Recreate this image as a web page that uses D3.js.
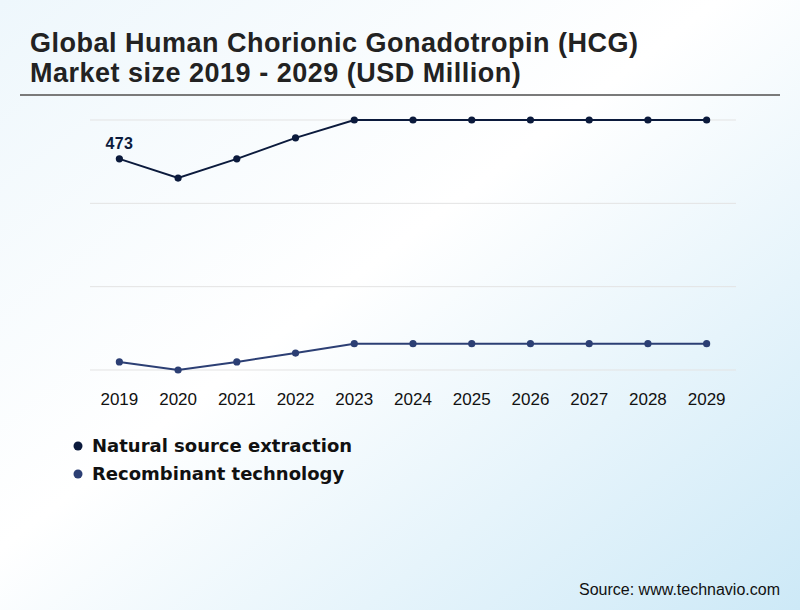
<!DOCTYPE html>
<html>
<head>
<meta charset="utf-8">
<script src="https://cdn.jsdelivr.net/npm/d3@7"></script>
<style>
  html, body { margin: 0; padding: 0; }
  svg { display: block; }
</style>
</head>
<body>
<svg id="chart" width="800" height="610"></svg>
<script>
// data
const years = ['2019', '2020', '2021', '2022', '2023', '2024', '2025', '2026', '2027', '2028', '2029'];
const naturalValues = [473, 430, 473, 520, 560, 560, 560, 560, 560, 560, 560];
const recombinantValues = [18, 0, 18, 38, 59, 59, 59, 59, 59, 59, 59];
const seriesNames = ['Natural source extraction', 'Recombinant technology'];
const seriesColors = ['#0b1a3c', '#2c3f74'];
const titleLines = ['Global Human Chorionic Gonadotropin (HCG)', 'Market size 2019 - 2029 (USD Million)'];

const W = 800, H = 610;
const svg = d3.select('#chart');

// background gradient
const defs = svg.append('defs');
const grad = defs.append('linearGradient').attr('id', 'bg')
  .attr('x1', '0%').attr('y1', '0%').attr('x2', '100%').attr('y2', '100%');
grad.append('stop').attr('offset', '0%').attr('stop-color', '#eef7fc');
grad.append('stop').attr('offset', '45%').attr('stop-color', '#ffffff');
grad.append('stop').attr('offset', '100%').attr('stop-color', '#cde9f7');
svg.append('rect').attr('width', W).attr('height', H).attr('fill', 'url(#bg)');

// title
svg.append('text')
  .attr('x', 30).attr('y', 52)
  .attr('font-family', 'Liberation Sans, Arial, sans-serif')
  .attr('font-size', 27).attr('font-weight', 700).attr('fill', '#222')
  .attr('letter-spacing', 0.5)
  .selectAll('tspan').data(titleLines).join('tspan')
  .attr('x', 30).attr('dy', (d, i) => i ? 30 : 0)
  .text(d => d);

svg.append('line')
  .attr('x1', 20).attr('x2', 780).attr('y1', 95).attr('y2', 95)
  .attr('stroke', '#7a7a7a').attr('stroke-width', 2);

// scales
const x = d3.scaleBand().domain(years).range([90, 736]);
const y = d3.scaleLinear().domain([0, 560]).range([370, 120]);
const cx = d => x(d) + x.bandwidth() / 2;

// gridlines
const gridVals = d3.range(4).map(i => i * 560 / 3);
svg.append('g').selectAll('line').data(gridVals).join('line')
  .attr('x1', 90).attr('x2', 736)
  .attr('y1', d => y(d)).attr('y2', d => y(d))
  .attr('stroke', '#e3e3e3').attr('stroke-width', 1);

// x axis labels
const xAxis = svg.append('g')
  .attr('transform', 'translate(0,385)')
  .call(d3.axisBottom(x).tickSize(0).tickPadding(8));
xAxis.select('.domain').remove();
xAxis.selectAll('text')
  .attr('font-family', 'Liberation Sans, Arial, sans-serif')
  .attr('font-size', 17).attr('fill', '#111');

// lines
const series = [naturalValues, recombinantValues];
const line = d3.line().x((d, i) => cx(years[i])).y(d => y(d));
series.forEach((vals, s) => {
  const g = svg.append('g');
  g.append('path').datum(vals)
    .attr('d', line)
    .attr('fill', 'none')
    .attr('stroke', seriesColors[s])
    .attr('stroke-width', 2);
  g.selectAll('circle').data(vals).join('circle')
    .attr('cx', (d, i) => cx(years[i]))
    .attr('cy', d => y(d))
    .attr('r', 3.6)
    .attr('fill', seriesColors[s]);
});

// value label on first point
svg.append('text')
  .attr('x', cx(years[0])).attr('y', y(naturalValues[0]) - 10)
  .attr('text-anchor', 'middle')
  .attr('font-family', 'Liberation Sans, Arial, sans-serif')
  .attr('font-size', 16).attr('font-weight', 700)
  .attr('letter-spacing', 0.3)
  .attr('fill', seriesColors[0])
  .text(naturalValues[0]);

// legend
const legend = svg.append('g').selectAll('g').data(seriesNames).join('g')
  .attr('transform', (d, i) => `translate(78,${446 + i * 28})`);
legend.append('circle').attr('r', 4.5).attr('fill', (d, i) => seriesColors[i]);
legend.append('text')
  .attr('x', 14).attr('dy', '0.35em')
  .attr('font-family', 'DejaVu Sans, sans-serif')
  .attr('font-size', 18).attr('font-weight', 700).attr('fill', '#111')
  .text(d => d);

// source
svg.append('text')
  .attr('x', 780).attr('y', 595)
  .attr('text-anchor', 'end')
  .attr('font-family', 'Liberation Sans, Arial, sans-serif')
  .attr('font-size', 16).attr('fill', '#111')
  .text('Source: www.technavio.com');
</script>
</body>
</html>
